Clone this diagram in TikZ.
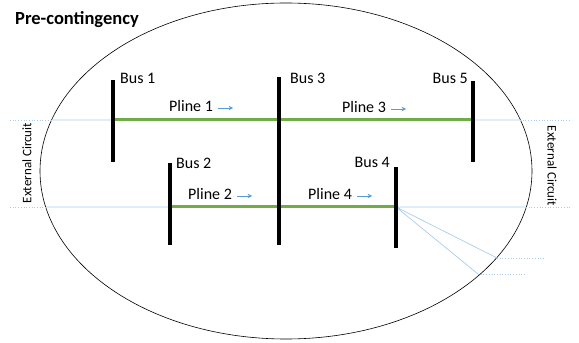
\documentclass[tikz,border=0pt]{standalone}
\usepackage{fontspec}
\setmainfont{Carlito}
\usetikzlibrary{arrows.meta}
\usetikzlibrary{positioning}

\definecolor{plgreen}{RGB}{112,173,71}
\definecolor{extblue}{RGB}{170,204,236}
\definecolor{flowblue}{RGB}{91,155,213}

\begin{document}
\begin{tikzpicture}[x=1pt, y=1pt,
  bus/.style={line width=4.2pt},
  pline/.style={draw=plgreen, line width=3pt},
  ext/.style={draw=extblue, line width=0.7pt},
  extout/.style={ext, dotted},
  lbl/.style={inner sep=0pt, font=\fontsize{16}{18}\selectfont},
  flow/.style={draw=flowblue, line width=0.8pt, -{Stealth[length=4.5pt, width=4.5pt]}}]
  \useasboundingbox (0,0) rectangle (579,343);

  \node[inner sep=0pt, anchor=base west, font=\bfseries\fontsize{18.5}{20}\selectfont] (title) at (15,318) {Pre-contingency};
  \draw[line width=0.6pt] (286,172) ellipse [x radius=246, y radius=168];

  % buses and junctions
  \coordinate (b1t) at (113,263); \coordinate (b1b) at (113,181);
  \coordinate (b2t) at (170,180); \coordinate (b2b) at (170,98);
  \coordinate (b3t) at (279,266); \coordinate (b3b) at (279,98);
  \coordinate (b4t) at (396,176); \coordinate (b4b) at (396,95);
  \coordinate (b5t) at (473,262); \coordinate (b5b) at (473,181);
  \coordinate (j1) at (113,223); \coordinate (j3a) at (279,223); \coordinate (j5) at (473,223);
  \coordinate (j2) at (170,136); \coordinate (j3b) at (279,136); \coordinate (j4) at (396,136);

  % external circuit
  \coordinate (oL1) at (10,223); \coordinate (eL1) at (52,223);
  \coordinate (eR1) at (520,223); \coordinate (oR1) at (570,223);
  \coordinate (oL2) at (10,136); \coordinate (eL2) at (46,136);
  \coordinate (eR2) at (526,136); \coordinate (oR2) at (570,136);
  \coordinate (d1) at (497,85); \coordinate (d1o) at (544,85);
  \coordinate (d2) at (478,69); \coordinate (d2o) at (524,69);

  \draw[extout] (oL1) -- (eL1) (eR1) -- (oR1) (oL2) -- (eL2) (eR2) -- (oR2) (d1) -- (d1o) (d2) -- (d2o);
  \draw[ext] (eL1) -- (j1) (j5) -- (eR1) (eL2) -- (j2) (j4) -- (eR2) (j4) -- (d1) (j4) -- (d2);

  \draw[pline] (j1) -- (j3a) -- (j5);
  \draw[pline] (j2) -- (j3b) -- (j4);

  \foreach \b in {1,...,5}
    \draw[bus] (b\b t) -- (b\b b);

  \node[lbl, anchor=base west] (bus1) at (120,259) {Bus 1};
  \node[lbl, anchor=base west] (bus3) at (290,259) {Bus 3};
  \node[lbl, anchor=base east] (bus5) at (468,259) {Bus 5};
  \node[lbl, anchor=base west] (bus2) at (176,174) {Bus 2};
  \node[lbl, anchor=base east] (bus4) at (390,175) {Bus 4};

  \node[lbl, anchor=base west] (pl1) at (169,231) {Pline 1};
  \node[lbl, anchor=base west] (pl3) at (342,230) {Pline 3};
  \node[lbl, anchor=base west] (pl2) at (188,143) {Pline 2};
  \node[lbl, anchor=base west] (pl4) at (308,143) {Pline 4};
  \foreach \p in {1,...,4}
    \draw[flow] ([xshift=5pt, yshift=4pt]pl\p.base east) -- ++(15,0);

  \node[inner sep=0pt, rotate=90, font=\fontsize{13}{15}\selectfont] (extL) at (27,180) {External Circuit};
  \node[inner sep=0pt, rotate=-90, font=\fontsize{13}{15}\selectfont] (extR) at (552,177) {External Circuit};
\end{tikzpicture}
\end{document}
